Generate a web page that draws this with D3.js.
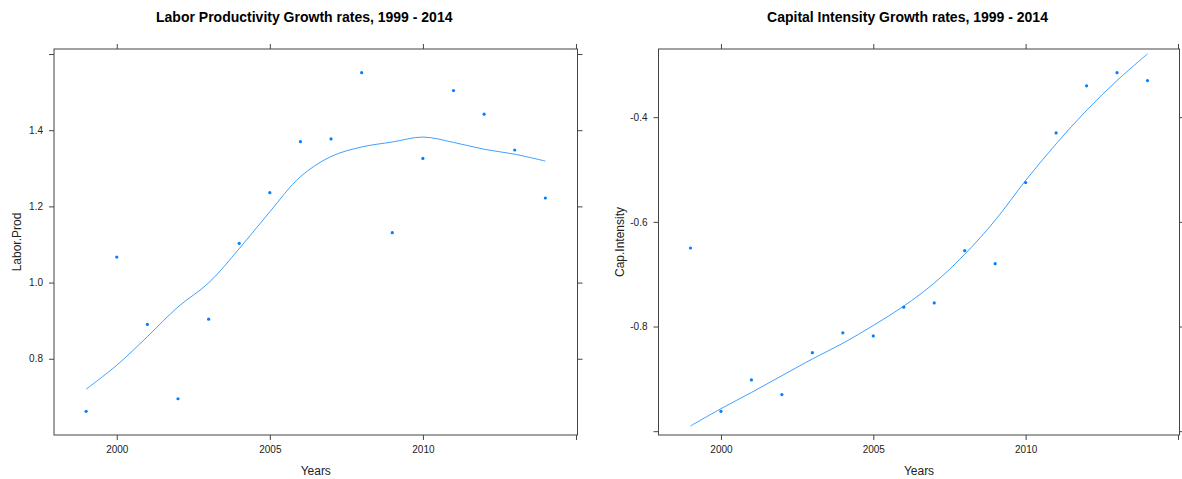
<!DOCTYPE html>
<html>
<head>
<meta charset="utf-8">
<script src="https://cdn.jsdelivr.net/npm/d3@7"></script>
<style>
  html, body { margin: 0; padding: 0; background: #ffffff; }
  svg { display: block; font-family: "Liberation Sans", Arial, sans-serif; }
</style>
</head>
<body>
<svg id="chart" width="1182" height="479"></svg>
<script>
// Years covered by both series
const years = [1999, 2000, 2001, 2002, 2003, 2004, 2005, 2006, 2007, 2008, 2009, 2010, 2011, 2012, 2013, 2014];

// Labor productivity growth rates (points)
const laborProd = [0.662, 1.067, 0.890, 0.695, 0.904, 1.103, 1.236, 1.370, 1.377, 1.551, 1.131, 1.326, 1.504, 1.442, 1.348, 1.222];
// Loess smooth through the labor productivity points
const laborSmooth = [0.720, 0.783, 0.858, 0.936, 0.999, 1.089, 1.186, 1.278, 1.331, 1.356, 1.369, 1.382, 1.368, 1.350, 1.337, 1.319];

// Capital intensity growth rates (points)
const capIntensity = [-0.650, -0.962, -0.902, -0.930, -0.850, -0.812, -0.818, -0.763, -0.755, -0.655, -0.680, -0.525, -0.430, -0.340, -0.315, -0.330];
// Loess smooth through the capital intensity points
const capSmooth = [-0.990, -0.957, -0.926, -0.894, -0.862, -0.832, -0.798, -0.761, -0.717, -0.662, -0.597, -0.521, -0.451, -0.387, -0.330, -0.279];

// Axis ticks (extreme ticks are drawn without labels)
const xTicks = [2000, 2005, 2010, 2015];
const xTickLabels = ["2000", "2005", "2010", ""];
const laborYTicks = [0.8, 1.0, 1.2, 1.4, 1.6];
const laborYTickLabels = ["0.8", "1.0", "1.2", "1.4", ""];
const capYTicks = [-1.0, -0.8, -0.6, -0.4];
const capYTickLabels = ["", "-0.8", "-0.6", "-0.4"];

const titles = ["Labor Productivity Growth rates, 1999 - 2014", "Capital Intensity Growth rates, 1999 - 2014"];
const yTitles = ["Labor.Prod", "Cap.Intensity"];
const xTitle = "Years";

const svg = d3.select("#chart");
const lineCol = "#444444";
const pointCol = "#0080ff";
const tickLen = 5;

// pad an extent by 7% on each side, lattice style
function padded(ext) {
  const r = ext[1] - ext[0];
  return [ext[0] - 0.07 * r, ext[1] + 0.07 * r];
}

function drawPanel(opt) {
  const { left, right, top, bottom } = opt.box;
  const x = d3.scaleLinear().domain(padded(d3.extent(years))).range([left, right]);
  const y = d3.scaleLinear().domain(padded(d3.extent(opt.values))).range([bottom, top]);
  const g = svg.append("g");

  // title
  g.append("text")
    .attr("x", (left + right) / 2 - 11.5)
    .attr("y", 22)
    .attr("text-anchor", "middle")
    .attr("font-size", 14)
    .attr("font-weight", "bold")
    .attr("fill", "#000")
    .text(opt.title);

  // bottom axis with labels, top axis ticks only
  const xb = g.append("g").attr("transform", `translate(0,${bottom})`)
    .call(d3.axisBottom(x).tickValues(xTicks).tickSize(tickLen).tickPadding(6)
      .tickFormat((d, i) => xTickLabels[i]));
  const xt = g.append("g").attr("transform", `translate(0,${top})`)
    .call(d3.axisTop(x).tickValues(xTicks).tickSize(tickLen).tickFormat(""));

  // left axis with labels, right axis ticks only
  const yl = g.append("g").attr("transform", `translate(${left},0)`)
    .call(d3.axisLeft(y).tickValues(opt.yTicks).tickSize(tickLen).tickPadding(6)
      .tickFormat((d, i) => opt.yTickLabels[i]));
  const yr = g.append("g").attr("transform", `translate(${right},0)`)
    .call(d3.axisRight(y).tickValues(opt.yTicks).tickSize(tickLen).tickFormat(""));

  [xb, xt, yl, yr].forEach(a => {
    a.select(".domain").remove();
    a.selectAll(".tick line").attr("stroke", lineCol);
    a.selectAll(".tick text").attr("fill", "#222").attr("font-size", 10)
      .attr("font-family", "Liberation Sans, Arial, sans-serif");
  });

  // panel frame
  g.append("rect")
    .attr("x", left).attr("y", top)
    .attr("width", right - left).attr("height", bottom - top)
    .attr("fill", "none").attr("stroke", lineCol).attr("stroke-width", 1);

  // axis titles
  g.append("text")
    .attr("x", (left + right) / 2)
    .attr("y", 475)
    .attr("text-anchor", "middle")
    .attr("font-size", 12)
    .attr("fill", "#222")
    .text(xTitle);
  g.append("text")
    .attr("transform", `translate(${opt.yTitleX},${(top + bottom) / 2}) rotate(-90)`)
    .attr("text-anchor", "middle")
    .attr("font-size", 12)
    .attr("fill", "#222")
    .text(opt.yTitle);

  // smooth curve
  const line = d3.line()
    .x((d, i) => x(years[i]))
    .y(d => y(d))
    .curve(d3.curveCatmullRom.alpha(0.5));
  g.append("path")
    .datum(opt.smooth)
    .attr("d", line)
    .attr("fill", "none")
    .attr("stroke", pointCol)
    .attr("stroke-opacity", 0.75)
    .attr("stroke-width", 1);

  // points
  g.append("g").selectAll("circle")
    .data(opt.values)
    .join("circle")
    .attr("cx", (d, i) => x(years[i]))
    .attr("cy", d => y(d))
    .attr("r", 1.6)
    .attr("fill", pointCol);
}

drawPanel({
  box: { left: 54, right: 577.5, top: 49, bottom: 435 },
  values: laborProd,
  smooth: laborSmooth,
  yTicks: laborYTicks,
  yTickLabels: laborYTickLabels,
  title: titles[0],
  yTitle: yTitles[0],
  yTitleX: 20.5
});

drawPanel({
  box: { left: 658.5, right: 1179.5, top: 49, bottom: 435 },
  values: capIntensity,
  smooth: capSmooth,
  yTicks: capYTicks,
  yTickLabels: capYTickLabels,
  title: titles[1],
  yTitle: yTitles[1],
  yTitleX: 623.5
});
</script>
</body>
</html>
